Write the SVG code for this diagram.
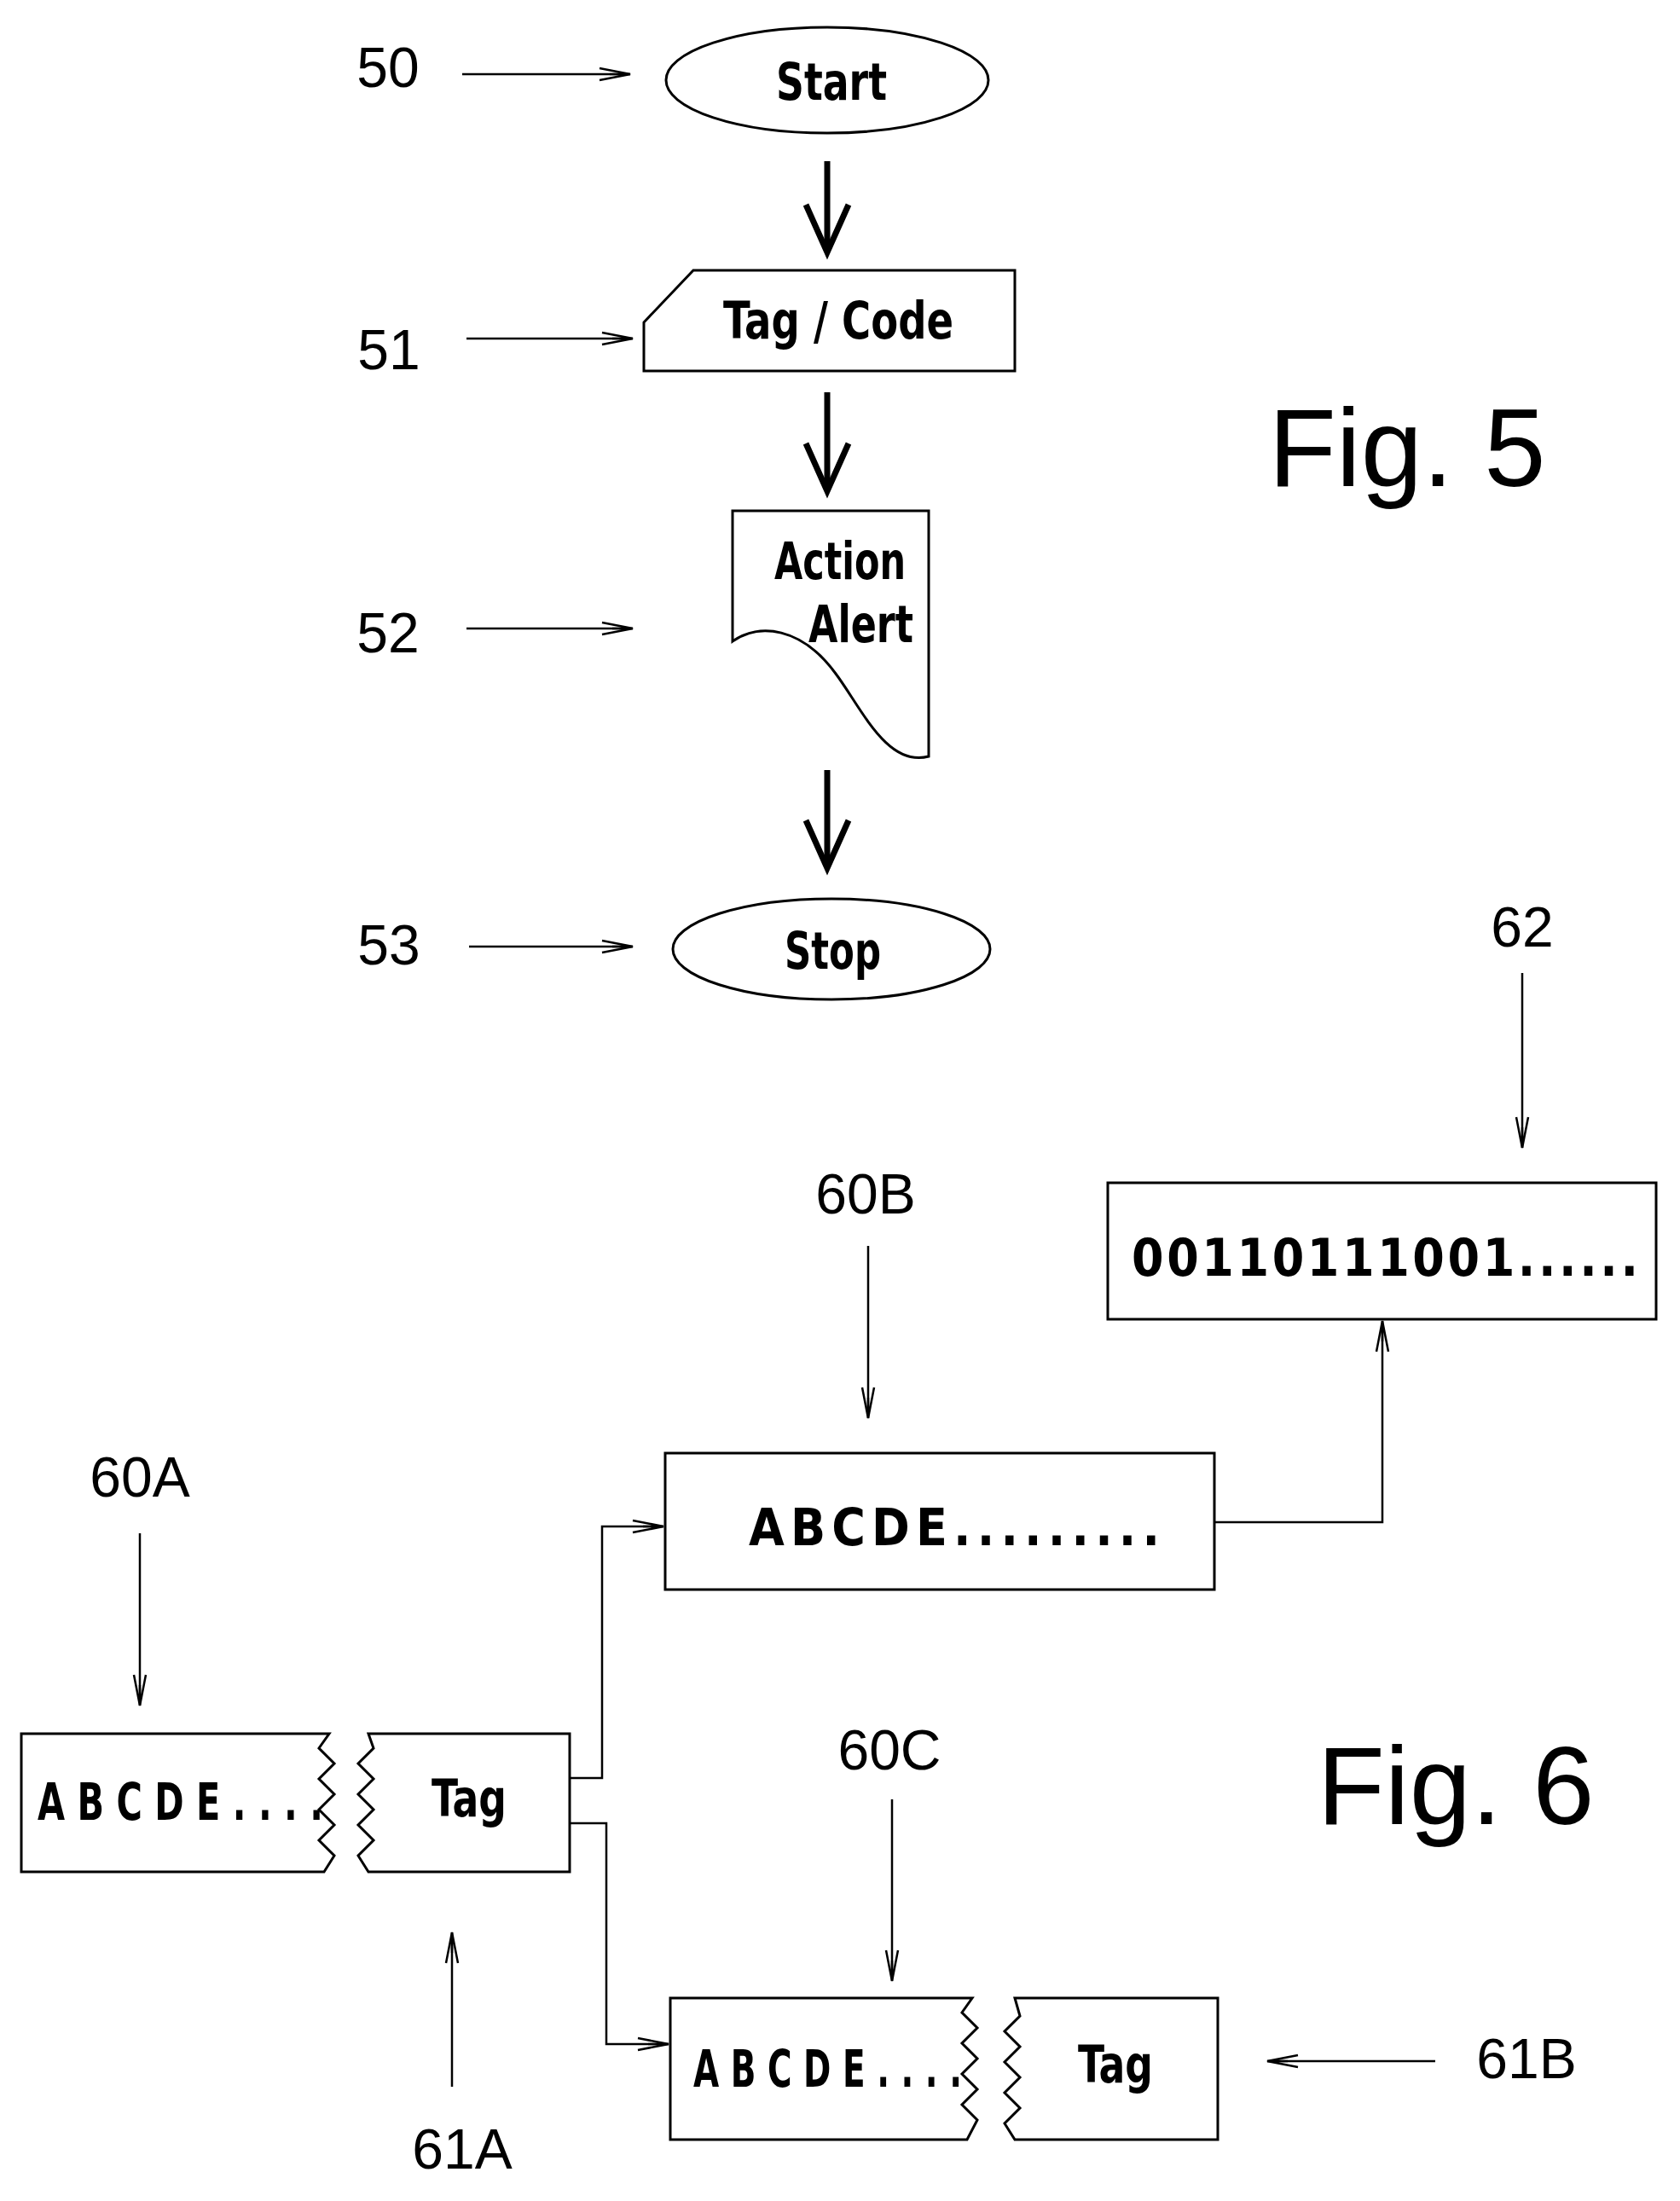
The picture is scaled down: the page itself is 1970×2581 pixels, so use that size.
<svg xmlns="http://www.w3.org/2000/svg" width="1970" height="2581" viewBox="0 0 1970 2581">
<style>
.s{fill:none;stroke:#000;stroke-width:3}
.c{fill:none;stroke:#000;stroke-width:2.5}
.n{font-family:"Liberation Sans",Arial,sans-serif;font-size:66px;fill:#000}
.t{font-family:"DejaVu Sans Condensed","Liberation Sans",sans-serif;font-weight:bold;font-size:60px;fill:#000}
.f{font-family:"Liberation Sans",Arial,sans-serif;font-size:130px;fill:#000}
.k{fill:none;stroke:#000;stroke-width:7}
</style>
<defs>
<marker id="a" markerWidth="40" markerHeight="20" refX="38" refY="10" orient="auto" markerUnits="userSpaceOnUse">
<path d="M2,3 L38,10 L2,17 M14,10 L38,10" fill="none" stroke="#000" stroke-width="2.5"/>
</marker>
</defs>
<rect width="1970" height="2581" fill="#fff"/>
<g id="n50"><ellipse cx="970" cy="94" rx="189" ry="62" class="s"/><text x="910" y="117" class="t" textLength="130" lengthAdjust="spacingAndGlyphs">Start</text></g>
<g id="n51"><path d="M813,317 L1190,317 L1190,435 L755,435 L755,378 Z" class="s"/><text x="848" y="397" class="t" textLength="270" lengthAdjust="spacingAndGlyphs">Tag / Code</text></g>
<g id="n52"><path d="M859,752 L859,599 L1089,599 L1089,887 C1040,900 1010,830 980,790 C940,735 890,730 859,752 Z" class="s"/><text x="908" y="679" class="t" textLength="154" lengthAdjust="spacingAndGlyphs">Action</text><text x="948" y="753" class="t" textLength="123" lengthAdjust="spacingAndGlyphs">Alert</text></g>
<g id="n53"><ellipse cx="975" cy="1113" rx="186" ry="59" class="s"/><text x="920" y="1136" class="t" textLength="113" lengthAdjust="spacingAndGlyphs">Stop</text></g>
<g id="n62"><rect x="1299" y="1387" width="643" height="160" class="s"/><text x="1327" y="1496" class="t" textLength="594" lengthAdjust="spacing">0 0 1 1 0 1 1 1 0 0 1 . . . . . .</text></g>
<g id="n60B"><rect x="780" y="1704" width="644" height="160" class="s"/><text x="878" y="1812" class="t" textLength="482" lengthAdjust="spacing">A B C D E . . . . . . . . .</text></g>
<g id="n60A"><path d="M25,2033 L386,2033 L374,2050 L392,2068 L374,2086 L392,2104 L374,2122 L392,2140 L374,2158 L392,2176 L380,2195 L25,2195 Z" class="s"/><text x="44" y="2134" class="t" textLength="335" lengthAdjust="spacingAndGlyphs">A B C D E . . . .</text></g>
<g id="n61A"><path d="M432,2033 L668,2033 L668,2195 L432,2195 L420,2176 L438,2158 L420,2140 L438,2122 L420,2104 L438,2086 L420,2068 L438,2050 Z" class="s"/><text x="506" y="2130" class="t" textLength="88" lengthAdjust="spacingAndGlyphs">Tag</text></g>
<g id="n60C"><path d="M786,2343 L1140,2343 L1128,2360 L1146,2378 L1128,2396 L1146,2414 L1128,2432 L1146,2450 L1128,2468 L1146,2486 L1134,2509 L786,2509 Z" class="s"/><text x="813" y="2447" class="t" textLength="315" lengthAdjust="spacingAndGlyphs">A B C D E . . . .</text></g>
<g id="n61B"><path d="M1190,2343 L1428,2343 L1428,2509 L1190,2509 L1178,2490 L1196,2472 L1178,2454 L1196,2436 L1178,2418 L1196,2400 L1178,2382 L1196,2364 Z" class="s"/><text x="1264" y="2442" class="t" textLength="88" lengthAdjust="spacingAndGlyphs">Tag</text></g>
<g id="labels">
<text x="455" y="102" class="n" text-anchor="middle">50</text>
<text x="456" y="433" class="n" text-anchor="middle">51</text>
<text x="455" y="765" class="n" text-anchor="middle">52</text>
<text x="456" y="1131" class="n" text-anchor="middle">53</text>
<text x="1650" y="570" class="f" text-anchor="middle">Fig. 5</text>
<text x="1785" y="1110" class="n" text-anchor="middle">62</text>
<text x="1015" y="1423" class="n" text-anchor="middle">60B</text>
<text x="164" y="1755" class="n" text-anchor="middle">60A</text>
<text x="1043" y="2075" class="n" text-anchor="middle">60C</text>
<text x="542" y="2543" class="n" text-anchor="middle">61A</text>
<text x="1790" y="2437" class="n" text-anchor="middle">61B</text>
<text x="1707" y="2139" class="f" text-anchor="middle">Fig. 6</text>
</g>
<g id="connectors">
<line x1="970" y1="189" x2="970" y2="290" class="k"/><path d="M945,240 L970,296 L995,240" class="k"/>
<line x1="970" y1="460" x2="970" y2="570" class="k"/><path d="M945,520 L970,576 L995,520" class="k"/>
<line x1="970" y1="903" x2="970" y2="1012" class="k"/><path d="M945,962 L970,1018 L995,962" class="k"/>
<line x1="542" y1="87" x2="739" y2="87" class="c" marker-end="url(#a)"/>
<line x1="547" y1="397" x2="742" y2="397" class="c" marker-end="url(#a)"/>
<line x1="547" y1="737" x2="742" y2="737" class="c" marker-end="url(#a)"/>
<line x1="550" y1="1110" x2="742" y2="1110" class="c" marker-end="url(#a)"/>
<line x1="1785" y1="1141" x2="1785" y2="1346" class="c" marker-end="url(#a)"/>
<line x1="1018" y1="1461" x2="1018" y2="1663" class="c" marker-end="url(#a)"/>
<polyline points="1424,1785 1621,1785 1621,1549" class="c" marker-end="url(#a)"/>
<line x1="164" y1="1798" x2="164" y2="2000" class="c" marker-end="url(#a)"/>
<polyline points="668,2085 706,2085 706,1790 778,1790" class="c" marker-end="url(#a)"/>
<polyline points="668,2138 711,2138 711,2397 784,2397" class="c" marker-end="url(#a)"/>
<line x1="530" y1="2447" x2="530" y2="2266" class="c" marker-end="url(#a)"/>
<line x1="1046" y1="2110" x2="1046" y2="2323" class="c" marker-end="url(#a)"/>
<line x1="1683" y1="2417" x2="1486" y2="2417" class="c" marker-end="url(#a)"/>
</g>
</svg>
